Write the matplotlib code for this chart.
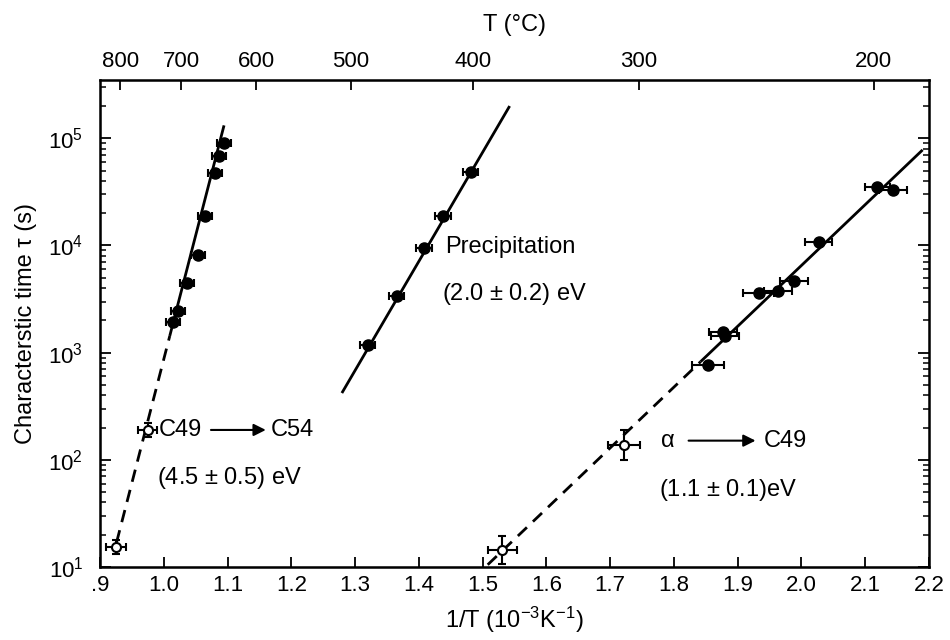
import numpy as np
import matplotlib
matplotlib.use('Agg')
import matplotlib.pyplot as plt
from matplotlib.ticker import FixedLocator, FixedFormatter, LogLocator, NullFormatter

plt.rcParams['font.family'] = ['Liberation Sans', 'DejaVu Sans']
plt.rcParams['mathtext.fontset'] = 'custom'
plt.rcParams['mathtext.rm'] = 'Liberation Sans'
plt.rcParams['mathtext.it'] = 'Liberation Sans:italic'

# C49 -> C54 (filled = measured, open = extrapolated region)
c54_x = [1.014, 1.023, 1.036, 1.053, 1.065, 1.081, 1.086, 1.095]
c54_tau = [1.95e3, 2.45e3, 4.5e3, 8.2e3, 1.88e4, 4.7e4, 6.8e4, 9.1e4]
c54_xerr = [0.011] * 8
c54_open_x = [0.925, 0.975]
c54_open_tau = [15.5, 190]
c54_open_xerr = [0.015, 0.015]
c54_open_lo = [13.3, 163]
c54_open_hi = [18.0, 221]

# precipitation
prec_x = [1.320, 1.3655, 1.408, 1.438, 1.4815]
prec_tau = [1.17e3, 3.4e3, 9.5e3, 1.9e4, 4.8e4]
prec_xerr = [0.012] * 5

# alpha -> C49
alpha_x = [1.854, 1.877, 1.880, 1.933, 1.963, 1.989, 2.027, 2.119, 2.144]
alpha_tau = [760, 1.55e3, 1.42e3, 3.6e3, 3.75e3, 4.65e3, 1.07e4, 3.55e4, 3.27e4]
alpha_xerr = [0.025, 0.022, 0.022, 0.024, 0.022, 0.022, 0.021, 0.02, 0.022]
alpha_open_x = [1.531, 1.722]
alpha_open_tau = [14.4, 138]
alpha_open_xerr = [0.023, 0.025]
alpha_open_lo = [10.7, 100]
alpha_open_hi = [19.4, 189]

# fitted lines: (x start, x end, tau start, tau end, x where solid begins)
c54_fit = (0.926, 1.0945, 17, 1.32e5, 1.0094)
prec_fit = (1.2793, 1.5424, 420, 2.0e5, 1.2793)
alpha_fit = (1.508, 2.19, 10.5, 7.8e4, 1.842)

temps_c = [800, 700, 600, 500, 400, 300, 200]
x_ticks = [0.9, 1.0, 1.1, 1.2, 1.3, 1.4, 1.5, 1.6, 1.7, 1.8, 1.9, 2.0, 2.1, 2.2]
x_tick_labels = ['.9', '1.0', '1.1', '1.2', '1.3', '1.4', '1.5', '1.6',
                 '1.7', '1.8', '1.9', '2.0', '2.1', '2.2']


def fit_tau(fit, x):
    x0, x1, t0, t1, _ = fit
    return 10 ** np.interp(x, [x0, x1], [np.log10(t0), np.log10(t1)])


def draw_fit(ax, fit):
    x0, x1, _, _, xb = fit
    lw = 2.0
    if xb > x0:
        xd = np.array([x0, xb])
        ax.plot(xd, fit_tau(fit, xd), color='k', lw=lw, ls=(0, (4.5, 3)))
    xs = np.array([xb, x1])
    ax.plot(xs, fit_tau(fit, xs), color='k', lw=lw, solid_capstyle='butt')


def draw_filled(ax, x, tau, xerr):
    ax.errorbar(x, tau, xerr=xerr, fmt='o', color='k', ms=8, capsize=3.2,
                elinewidth=1.5, capthick=1.5, zorder=3)


def draw_open(ax, x, tau, xerr, lo, hi):
    tau = np.array(tau)
    yerr = [tau - np.array(lo), np.array(hi) - tau]
    ax.errorbar(x, tau, xerr=xerr, yerr=yerr, fmt='o', color='k', mfc='white',
                mec='k', mew=1.5, ms=6.5, capsize=3.2, elinewidth=1.5,
                capthick=1.5, zorder=3)


fig = plt.figure(figsize=(9.5, 6.4), dpi=100)
ax = fig.add_axes([100 / 950, 1 - 567 / 640, 829 / 950, 487 / 640])
ax.set_yscale('log')
ax.set_xlim(0.9, 2.2)
ax.set_ylim(10, 3.5e5)

for fit in (c54_fit, prec_fit, alpha_fit):
    draw_fit(ax, fit)

draw_filled(ax, c54_x, c54_tau, c54_xerr)
draw_open(ax, c54_open_x, c54_open_tau, c54_open_xerr, c54_open_lo, c54_open_hi)
draw_filled(ax, prec_x, prec_tau, prec_xerr)
draw_filled(ax, alpha_x, alpha_tau, alpha_xerr)
draw_open(ax, alpha_open_x, alpha_open_tau, alpha_open_xerr, alpha_open_lo, alpha_open_hi)

fs = 17
arrow = dict(arrowstyle='-|>', color='k', lw=1.5, mutation_scale=18, shrinkA=0, shrinkB=0)
ax.text(0.9925, 190, 'C49', fontsize=fs, va='center', ha='left')
ax.annotate('', xy=(1.160, 190), xytext=(1.074, 190), arrowprops=arrow)
ax.text(1.168, 190, 'C54', fontsize=fs, va='center', ha='left')
ax.text(0.989, 68, '(4.5 $\\pm$ 0.5) eV', fontsize=fs, va='center', ha='left')

ax.text(1.4408, 9.6e3, 'Precipitation', fontsize=fs, va='center', ha='left')
ax.text(1.436, 3.56e3, '(2.0 $\\pm$ 0.2) eV', fontsize=fs, va='center', ha='left')

ax.text(1.779, 151, '\u03b1', fontsize=fs, va='center', ha='left')
ax.annotate('', xy=(1.928, 151), xytext=(1.823, 151), arrowprops=arrow)
ax.text(1.941, 151, 'C49', fontsize=fs, va='center', ha='left')
ax.text(1.776, 52, '(1.1 $\\pm$ 0.1)eV', fontsize=fs, va='center', ha='left')

tfs = 16
ax.xaxis.set_major_locator(FixedLocator(x_ticks))
ax.xaxis.set_major_formatter(FixedFormatter(x_tick_labels))
ax.yaxis.set_major_locator(LogLocator(base=10, numticks=10))
ax.yaxis.set_minor_locator(LogLocator(base=10, subs=np.arange(2, 10), numticks=10))
ax.yaxis.set_minor_formatter(NullFormatter())
ax.tick_params(axis='x', which='major', direction='in', length=7, width=1.3,
               labelsize=tfs, pad=6, top=False)
ax.tick_params(axis='y', which='major', direction='in', length=8, width=1.3,
               labelsize=tfs, pad=12, right=True)
ax.tick_params(axis='y', which='minor', direction='in', length=4, width=1.1, right=True)
for sp in ax.spines.values():
    sp.set_linewidth(1.8)

ax2 = ax.twiny()
ax2.set_xlim(ax.get_xlim())
ax2.set_xticks([1000 / (t + 273.15) for t in temps_c])
ax2.set_xticklabels([str(t) for t in temps_c])
ax2.tick_params(axis='x', direction='in', length=7, width=1.3, labelsize=tfs, pad=6)
ax2.set_xlabel('T (\u00b0C)', fontsize=fs, labelpad=14)

ax.set_xlabel('1/T (10$^{-3}$K$^{-1}$)', fontsize=fs, labelpad=6)
ax.set_ylabel('Characterstic time \u03c4 (s)', fontsize=fs, labelpad=8)

fig.savefig('out.png', dpi=100)
